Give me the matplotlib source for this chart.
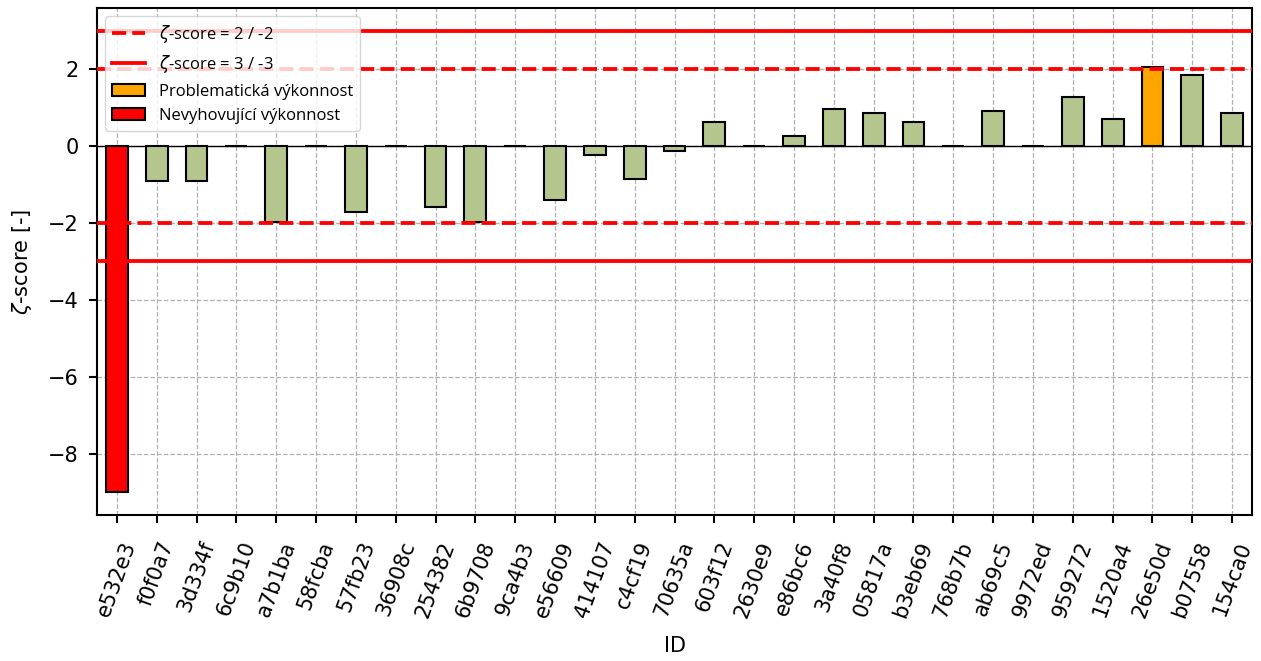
import matplotlib
matplotlib.use("Agg")
import matplotlib.pyplot as plt
from matplotlib.lines import Line2D
from matplotlib.patches import Patch

ids = ["e532e3", "f0f0a7", "3d334f", "6c9b10", "a7b1ba", "58fcba", "57fb23",
       "36908c", "254382", "6b9708", "9ca4b3", "e56609", "414107", "c4cf19",
       "70635a", "603f12", "2630e9", "e86bc6", "3a40f8", "05817a", "b3eb69",
       "768b7b", "ab69c5", "9972ed", "959272", "1520a4", "26e50d", "b07558",
       "154ca0"]
zeta = [-9.00, -0.91, -0.91, 0.0, -1.97, 0.0, -1.71,
        0.0, -1.57, -1.96, 0.0, -1.41, -0.23, -0.85,
        -0.12, 0.63, 0.0, 0.28, 0.97, 0.87, 0.63,
        0.0, 0.93, 0.0, 1.29, 0.71, 2.07, 1.86,
        0.87]

ok_color = "#b4c68e"
warn_color = "orange"
fail_color = "red"


def bar_color(z):
    if abs(z) >= 3:
        return fail_color
    if abs(z) > 2:
        return warn_color
    return ok_color


fig = plt.figure(figsize=(12.61, 6.61), dpi=100)
ax = fig.add_axes([0.0769, 0.2209, 0.9160, 0.7670])

x = list(range(len(ids)))
ax.bar(x, zeta, width=0.55, color=[bar_color(z) for z in zeta],
       edgecolor="black", linewidth=1.5, zorder=3)

ax.axhline(0, color="black", linewidth=1.0, zorder=2)
for lvl in (2, -2):
    ax.axhline(lvl, color="red", linestyle="--", linewidth=2.75, zorder=4)
for lvl in (3, -3):
    ax.axhline(lvl, color="red", linestyle="-", linewidth=2.75, zorder=4)

ax.set_xlim(-0.5, len(ids) - 0.5)
ax.set_xticks(x)
ax.set_xticklabels(ids, rotation=70, fontsize=15)
ax.tick_params(axis="y", labelsize=15, pad=7)
ax.tick_params(axis="x", pad=11)
ax.tick_params(width=1.5, length=6)
for sp in ax.spines.values():
    sp.set_linewidth(1.5)

ax.grid(True, linestyle="--", color="#b0b0b0", linewidth=0.9, zorder=0)
ax.set_axisbelow(True)

ax.set_xlabel("ID", fontsize=15, labelpad=11)
ax.set_ylabel(r"$\zeta$-score [-]", fontsize=15, labelpad=10)

handles = [
    Line2D([0], [0], color="red", linestyle="--", linewidth=2.75),
    Line2D([0], [0], color="red", linestyle="-", linewidth=2.75),
    Patch(facecolor=warn_color, edgecolor="black", linewidth=1.5),
    Patch(facecolor=fail_color, edgecolor="black", linewidth=1.5),
]
labels = [r"$\zeta$-score = 2 / -2", r"$\zeta$-score = 3 / -3",
          "Problematická výkonnost", "Nevyhovující výkonnost"]
ax.legend(handles, labels, loc="upper left",
          prop={"family": "Open Sans", "size": 12}, labelspacing=0.5)

fig.savefig("out.png", dpi=100)
